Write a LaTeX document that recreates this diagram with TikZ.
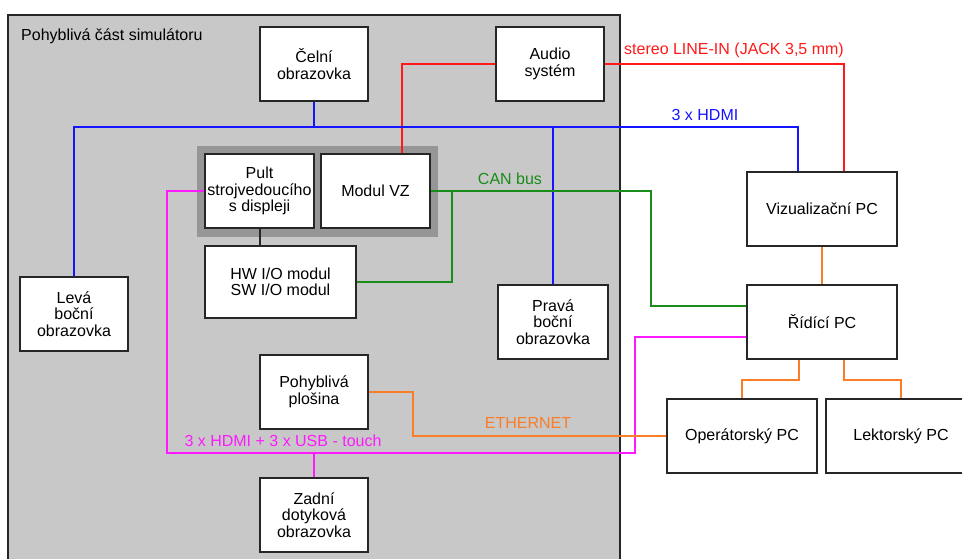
\documentclass[tikz,border=0pt]{standalone}
\usepackage{fontspec}
\setmainfont{Liberation Sans}
\usetikzlibrary{calc}
\definecolor{panelgray}{RGB}{200,200,200}
\definecolor{groupgray}{RGB}{150,150,150}
\definecolor{hdmiblue}{RGB}{20,20,255}
\definecolor{audiored}{RGB}{255,25,25}
\definecolor{cangreen}{RGB}{25,140,25}
\definecolor{touchpink}{RGB}{255,25,255}
\definecolor{ethorange}{RGB}{250,125,40}
\tikzset{devbox/.style={draw=black!85, line width=2pt, fill=white, align=center, inner sep=0pt,
    minimum width=108pt, minimum height=74pt},
  pcbox/.style={devbox, minimum width=150pt},
  wire/.style={line width=1.8pt},
  tag/.style={inner sep=0pt}}

\begin{document}
\begin{tikzpicture}[x=1pt, y=-1pt, font=\fontsize{16}{16.5}\selectfont]
  \useasboundingbox (0,0) rectangle (962,559);
  % moving part of the simulator
  \fill[panelgray, draw=black!85, line width=1.2pt] (8,15) rectangle (620,575);
  \node[tag, anchor=west] (title) at (21,36) {Pohyblivá část simulátoru};
  \fill[groupgray] (197,146) rectangle (438,237);
  % devices on the platform
  \node[devbox] (celni) at (314,64) {Čelní\\obrazovka};
  \node[devbox] (audio) at (550,64) {Audio\\systém};
  \node[devbox, minimum width=109pt] (pult) at (259.5,191) {Pult\\strojvedoucího\\s displeji};
  \node[devbox, minimum width=109pt] (modul) at (375.5,191) {Modul VZ};
  \node[devbox, minimum width=151pt, minimum height=72pt] (hwsw) at (280.5,282) {HW I/O modul\\SW I/O modul};
  \node[devbox] (leva) at (74,314) {Levá\\boční\\obrazovka};
  \node[devbox, minimum width=110pt] (prava) at (553,322) {Pravá\\boční\\obrazovka};
  \node[devbox] (plosina) at (314,392) {Pohyblivá\\plošina};
  \node[devbox] (zadni) at (314,515) {Zadní\\dotyková\\obrazovka};
  % computers outside
  \node[pcbox] (vizual) at (822,209) {Vizualizační PC};
  \node[pcbox] (ridici) at (822,322) {Řídící PC};
  \node[pcbox] (operator) at (742,436) {Operátorský PC};
  \node[pcbox] (lektor) at (901,436) {Lektorský PC};
  % bus corners
  \coordinate (hdmibus) at (0,127);
  \coordinate (canR) at (651,191);
  \coordinate (canL) at (452,191);
  \coordinate (usbL) at (167,453);
  \coordinate (usbR) at (635,453);
  \coordinate (ethK) at (413,392);
  % audio
  \draw[wire, audiored] ([xshift=26.5pt]modul.north) |- (audio.west);
  \draw[wire, audiored] (audio.east) -| ([xshift=22pt]vizual.north);
  \node[tag, audiored] (lineinlbl) at (734,50) {stereo LINE-IN (JACK 3,5 mm)};
  % video
  \draw[wire, hdmiblue] (leva.north) |- (hdmibus -| canR) -| ([xshift=-24pt]vizual.north);
  \draw[wire, hdmiblue] (celni.south) -- (celni.south |- hdmibus);
  \draw[wire, hdmiblue] (prava.north) -- (prava.north |- hdmibus);
  \node[tag, hdmiblue] (hdmilbl) at (705,115) {3 x HDMI};
  % CAN bus
  \draw[wire, cangreen] (modul.east) -- (canR) |- ([yshift=16pt]ridici.west);
  \draw[wire, cangreen] (canL) |- (hwsw.east);
  \node[tag, cangreen] (canlbl) at (510,179) {CAN bus};
  % touch screens
  \draw[wire, touchpink] (pult.west) -| (usbL) -- (usbR) |- ([yshift=-15pt]ridici.west);
  \draw[wire, touchpink] (zadni.north) -- (zadni.north |- usbL);
  \node[tag, touchpink] (usblbl) at (283,441) {3 x HDMI + 3 x USB - touch};
  % ethernet
  \draw[wire, ethorange] (vizual.south) -- (ridici.north);
  \draw[wire, ethorange] (plosina.east) -- (ethK) |- (operator.west);
  \draw[wire, ethorange] ([xshift=-23pt]ridici.south) -- ++(0,20) -| (operator.north);
  \draw[wire, ethorange] ([xshift=22pt]ridici.south) -- ++(0,20) -| (lektor.north);
  \node[tag, ethorange] (ethlbl) at (528,423) {ETHERNET};
  % console to I/O
  \draw[line width=2pt, black!85] (pult.south) -- (hwsw.north -| pult.south);
\end{tikzpicture}
\end{document}
